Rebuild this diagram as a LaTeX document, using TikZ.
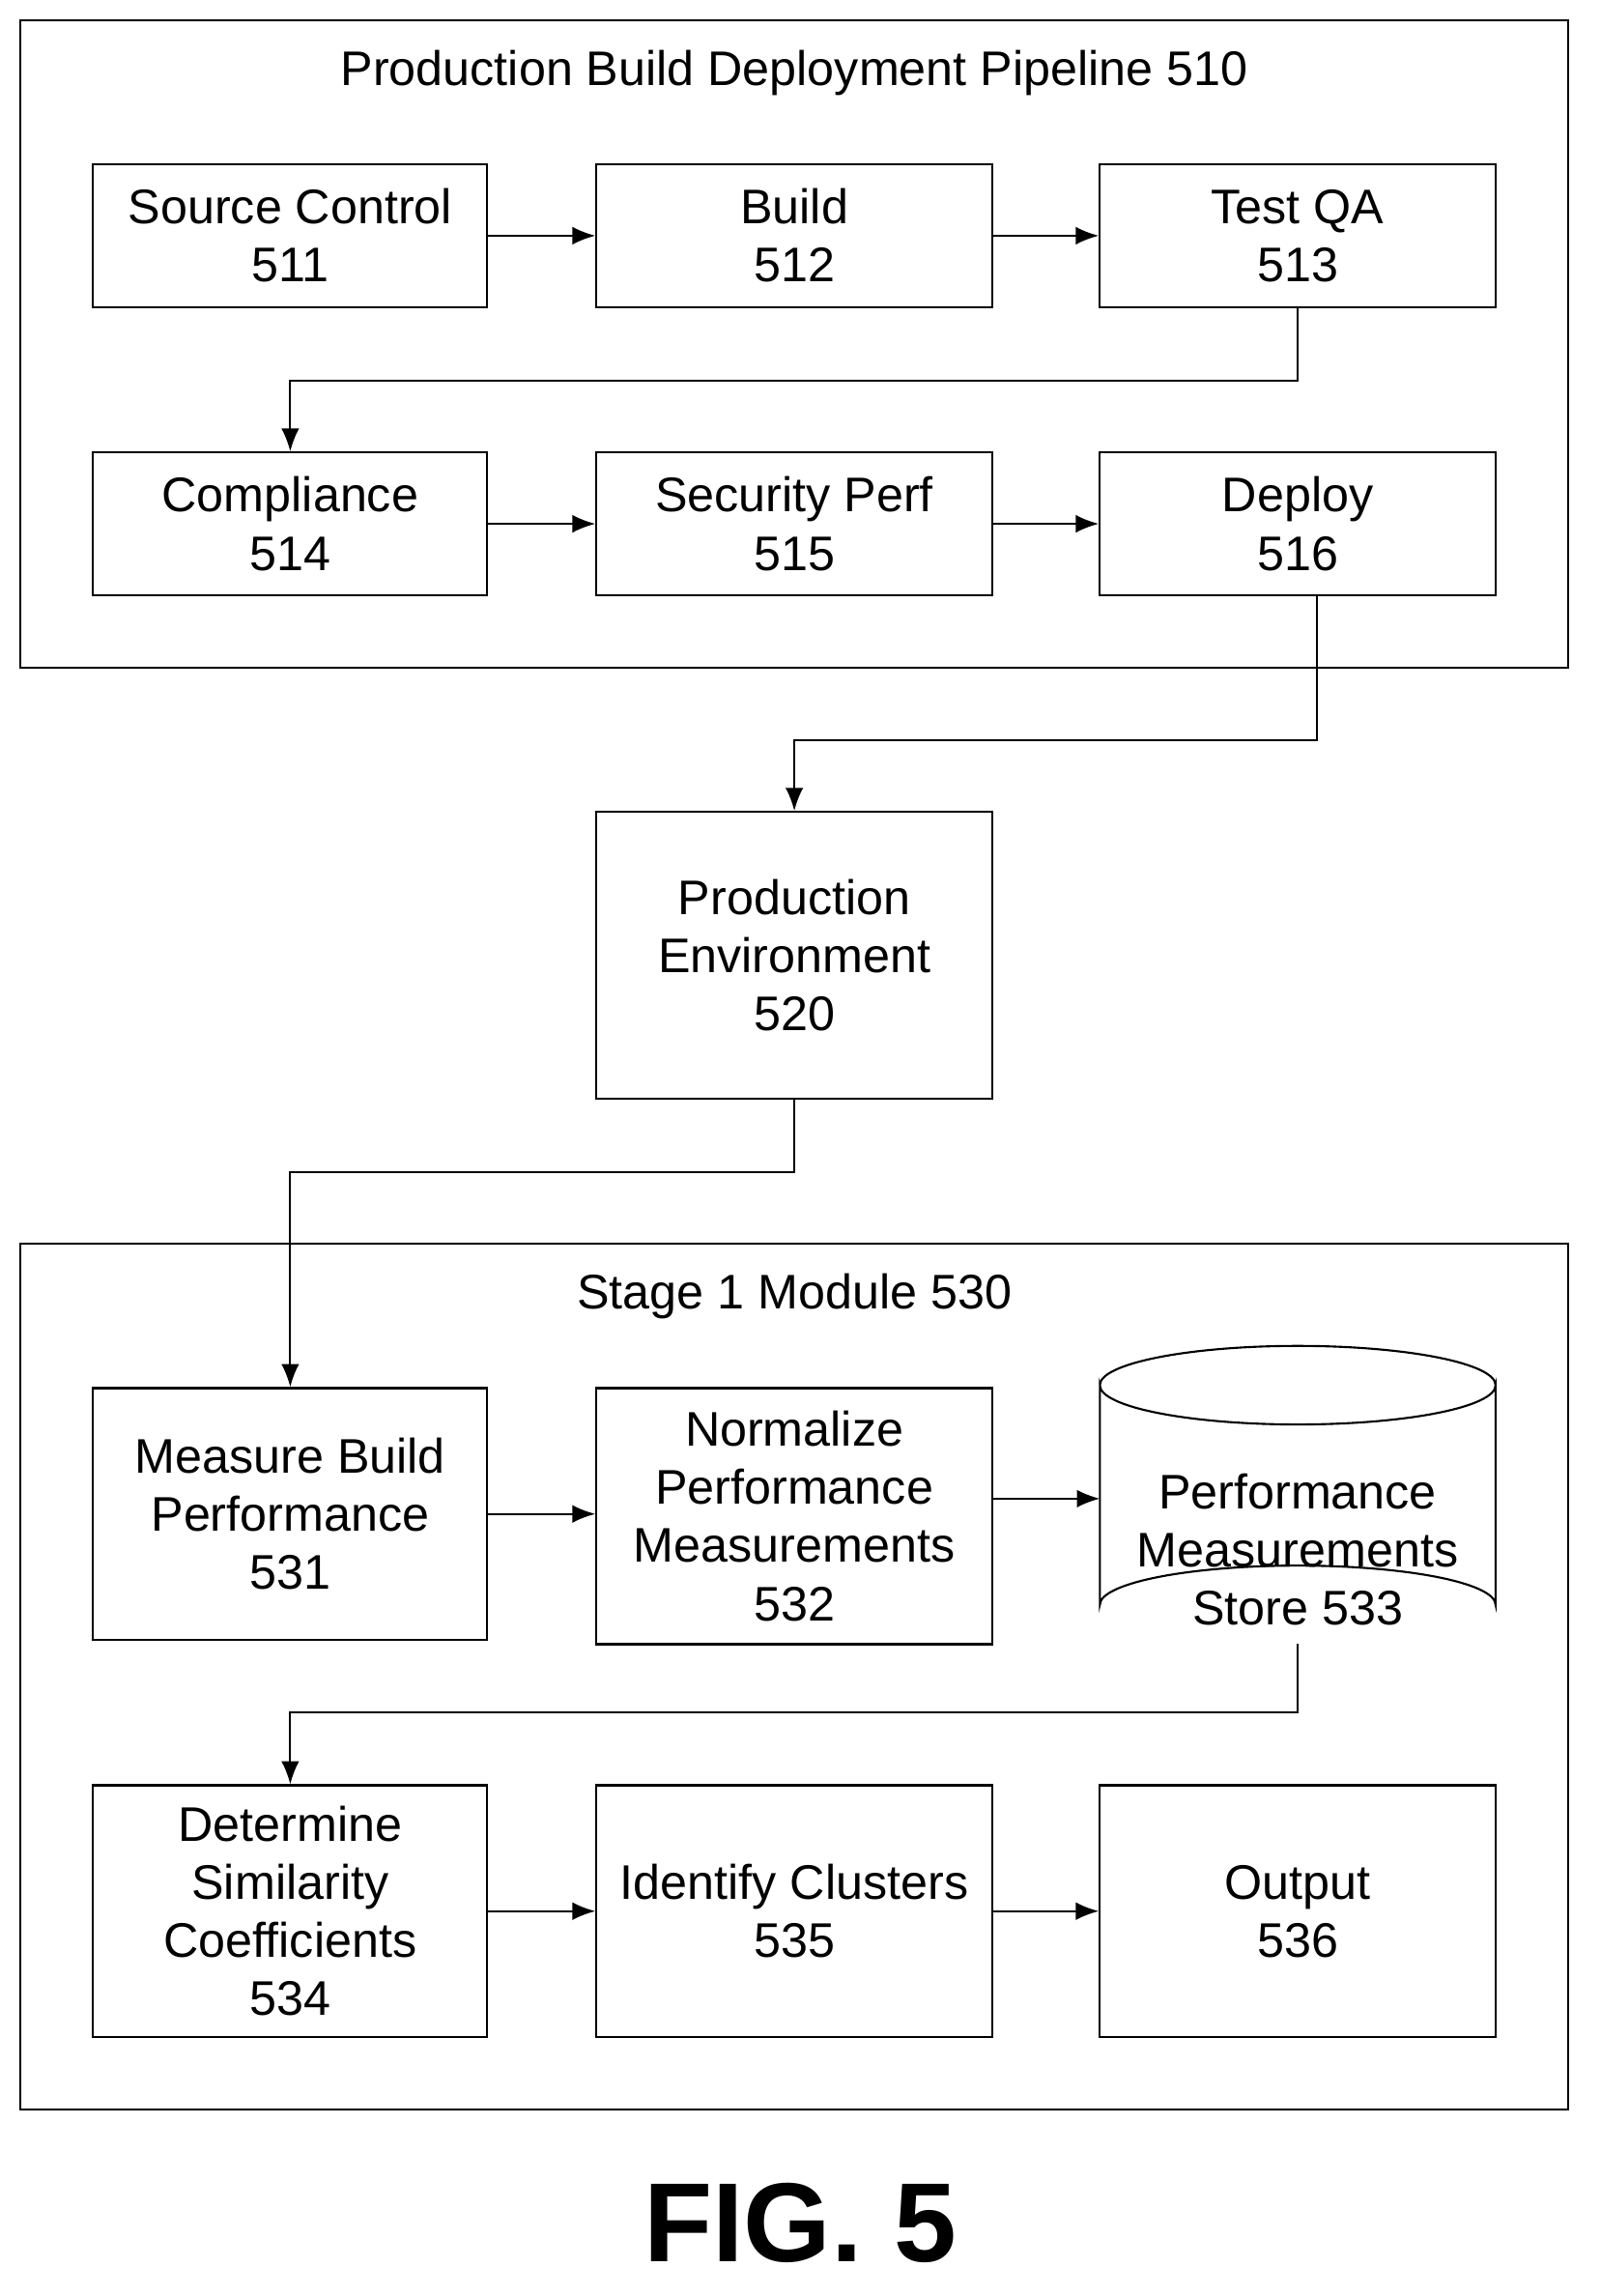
\documentclass[tikz,border=0pt]{standalone}
\usepackage{fontspec}
\setmainfont{Liberation Sans}
\usetikzlibrary{arrows.meta}
\begin{document}
\begin{tikzpicture}[x=0.02cm,y=-0.02cm,
 box/.style={draw,line width=0.8pt,align=center,inner sep=0pt,font=\fontsize{19}{22.7}\selectfont},
 frame/.style={draw,line width=0.8pt},
 lbl/.style={font=\fontsize{19}{22.7}\selectfont},
 arr/.style={line width=0.8pt,-{Latex[length=9pt,width=7pt]}}]
\useasboundingbox (0,0) rectangle (1100,1578);
\draw[frame] (14,14) rectangle (1078,459);
\node[lbl] (t510) at (546,50) {Production Build Deployment Pipeline 510};
\newcommand{\bx}[6]{\node[box,minimum width=#4*0.02cm,minimum height=#5*0.02cm] (#1) at (#2,#3) {#6};}
\bx{n511}{199.5}{162}{271}{98}{Source Control\\511}
\bx{n512}{546}{162}{272}{98}{Build\\512}
\bx{n513}{892}{162}{272}{98}{Test QA\\513}
\bx{n514}{199.5}{360}{271}{98}{Compliance\\514}
\bx{n515}{546}{360}{272}{98}{Security Perf\\515}
\bx{n516}{892}{360}{272}{98}{Deploy\\516}
\bx{n520}{546}{656.5}{272}{197}{Production\\Environment\\520}
\draw[frame] (14,855) rectangle (1078,1450);
\node[lbl] (t530) at (546,891) {Stage 1 Module 530};
\bx{n531}{199.5}{1040.5}{271}{173}{Measure Build\\Performance\\531}
\bx{n532}{546}{1042}{272}{176}{Normalize\\Performance\\Measurements\\532}
\draw[line width=0.8pt] (756,952) arc[start angle=180,end angle=360,x radius=136,y radius=27]
  (756,952) arc[start angle=180,end angle=0,x radius=136,y radius=27] -- (1028,1103)
  arc[start angle=0,end angle=-180,x radius=136,y radius=27] -- cycle;
\node[lbl,align=center] (n533) at (892,1065) {Performance\\Measurements\\Store 533};
\coordinate (b533) at (892,1130);
\coordinate (l533) at (756,1030);
\bx{n534}{199.5}{1313.5}{271}{173}{Determine\\Similarity\\Coefficients\\534}
\bx{n535}{546}{1313.5}{272}{173}{Identify Clusters\\535}
\bx{n536}{892}{1313.5}{272}{173}{Output\\536}
\node[font=\bfseries\fontsize{44}{50}\selectfont] (fig) at (550,1528) {FIG. 5};
\draw[arr] (n511) -- (n512);
\draw[arr] (n512) -- (n513);
\draw[arr] (n514) -- (n515);
\draw[arr] (n515) -- (n516);
\draw[arr] (n513.south) -- ++(0,50) -| (n514.north);
\draw[arr] (n516.south -| 905,0) -- (905,509) -| (n520.north);
\draw[arr] (n520.south) -- ++(0,50) -| (n531.north);
\draw[arr] (n531) -- (n531 -| n532.west);
\draw[arr] (n532.east |- 0,1030) -- (l533);
\draw[arr] (b533) -- (892,1177) -| (n534.north);
\draw[arr] (n534) -- (n535);
\draw[arr] (n535) -- (n536);
\end{tikzpicture}
\end{document}
